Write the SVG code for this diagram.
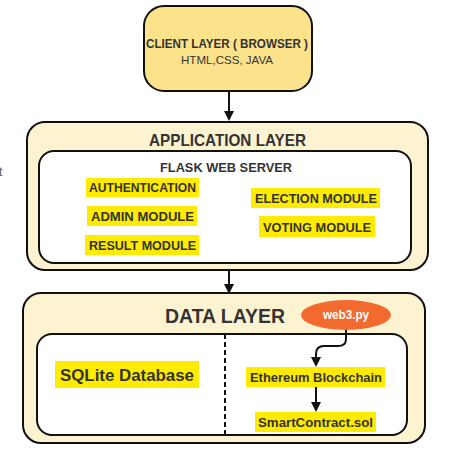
<svg xmlns="http://www.w3.org/2000/svg" width="449" height="455" viewBox="0 0 449 455">
<defs>
<style>
.t{font-family:"Liberation Sans",Arial,sans-serif;font-weight:700;fill:#333;text-anchor:middle}
.hl{fill:#FFEB00}
.layer{fill:#FDF3D1;stroke:#111;stroke-width:2}
.inner{fill:#fff;stroke:#111;stroke-width:2}
.conn{fill:none;stroke:#111;stroke-width:2}
</style>
<marker id="ah" viewBox="0 0 10 10" refX="8" refY="5" markerWidth="5" markerHeight="5" orient="auto">
<path d="M0,0 L10,5 L0,10 Z" fill="#111"/>
</marker>
</defs>
<rect width="449" height="455" fill="#fff"/>
<text x="-1" y="176" style="font-family:'Liberation Sans',sans-serif;font-size:12px;fill:#555">t</text>

<g id="client">
<rect x="144" y="6" width="168" height="85" rx="20" fill="#FCE28A" stroke="#111" stroke-width="2"/>
<text class="t" x="227" y="48" style="font-size:12px" textLength="162" lengthAdjust="spacingAndGlyphs">CLIENT LAYER ( BROWSER )</text>
<text class="t" x="227" y="63.5" style="font-size:11.5px;font-weight:400" textLength="92" lengthAdjust="spacingAndGlyphs">HTML,CSS, JAVA</text>
</g>

<g id="application">
<rect class="layer" x="27" y="122" width="401" height="148" rx="18"/>
<text class="t" x="227.5" y="146" style="font-size:16.5px" textLength="157" lengthAdjust="spacingAndGlyphs">APPLICATION LAYER</text>
<rect class="inner" x="39" y="151" width="372" height="112" rx="15"/>
<text class="t" x="226" y="172" style="font-size:13px" textLength="132" lengthAdjust="spacingAndGlyphs">FLASK WEB SERVER</text>
<rect class="hl" x="86" y="178" width="113" height="19"/>
<text class="t" x="142.5" y="192" style="font-size:12.5px" textLength="107" lengthAdjust="spacingAndGlyphs">AUTHENTICATION</text>
<rect class="hl" x="87" y="206" width="110" height="20"/>
<text class="t" x="142.5" y="221" style="font-size:12.5px" textLength="103" lengthAdjust="spacingAndGlyphs">ADMIN MODULE</text>
<rect class="hl" x="85" y="235" width="114" height="20"/>
<text class="t" x="142.5" y="250" style="font-size:12.5px" textLength="107" lengthAdjust="spacingAndGlyphs">RESULT MODULE</text>
<rect class="hl" x="251" y="188" width="129" height="20"/>
<text class="t" x="316" y="202.5" style="font-size:12.5px" textLength="122" lengthAdjust="spacingAndGlyphs">ELECTION MODULE</text>
<rect class="hl" x="259" y="216" width="116" height="21"/>
<text class="t" x="317" y="232" style="font-size:12.5px" textLength="108" lengthAdjust="spacingAndGlyphs">VOTING MODULE</text>
</g>

<g id="data">
<rect class="layer" x="23" y="293" width="402" height="150" rx="18"/>
<text class="t" x="225" y="322.5" style="font-size:20px" textLength="120" lengthAdjust="spacingAndGlyphs">DATA LAYER</text>
<rect class="inner" x="37" y="334" width="370" height="101" rx="15"/>
<line x1="225" y1="334" x2="225" y2="435" stroke="#111" stroke-width="2" stroke-dasharray="5,3"/>
<rect class="hl" x="55" y="361" width="144" height="27"/>
<text class="t" x="127" y="381" style="font-size:17px" textLength="134" lengthAdjust="spacingAndGlyphs">SQLite Database</text>
</g>

<g id="web3">
<ellipse cx="346" cy="315" rx="45" ry="15" fill="#F26A2E"/>
<text class="t" x="346" y="319" style="font-size:12px;fill:#fff" textLength="46" lengthAdjust="spacingAndGlyphs">web3.py</text>
</g>

<g id="ethereum">
<rect class="hl" x="246" y="367" width="139" height="20"/>
<text class="t" x="316" y="381.5" style="font-size:12.5px" textLength="132" lengthAdjust="spacingAndGlyphs">Ethereum Blockchain</text>
</g>

<g id="smartcontract">
<rect class="hl" x="255" y="412" width="121" height="20"/>
<text class="t" x="315.5" y="427" style="font-size:12.5px" textLength="115" lengthAdjust="spacingAndGlyphs">SmartContract.sol</text>
</g>

<g id="connectors">
<path class="conn" d="M229,92 L229,119" marker-end="url(#ah)"/>
<path class="conn" d="M229,270 L229,292" marker-end="url(#ah)"/>
<path class="conn" d="M346,330 L346,339 Q346,346 338,346 L324,346 Q316,346 316,354 L316,365" marker-end="url(#ah)"/>
<path class="conn" d="M316,387 L316,410" marker-end="url(#ah)"/>
</g>
</svg>
